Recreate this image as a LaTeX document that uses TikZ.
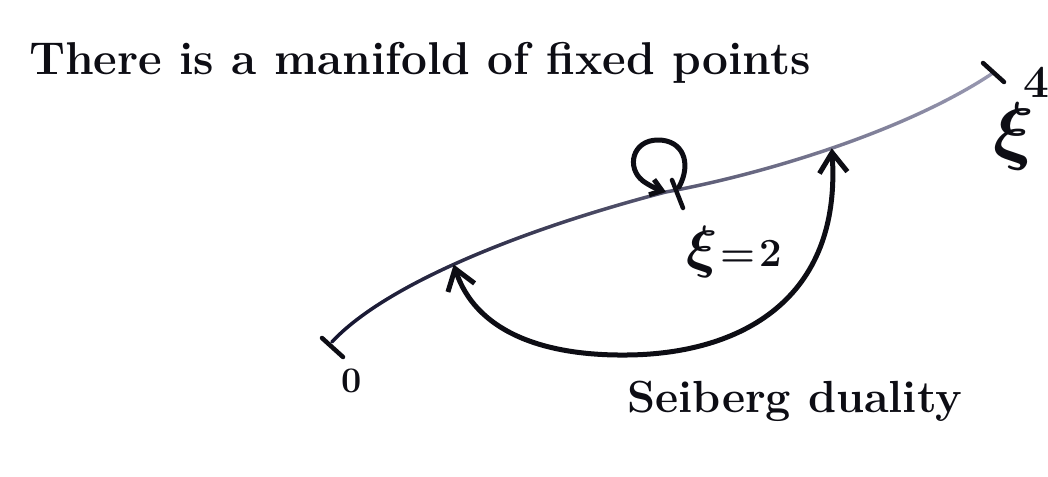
\RequirePackage{fix-cm}
\documentclass[tikz,border=0pt]{standalone}
\usepackage{amsmath}
\usetikzlibrary{arrows.meta,fadings}
\definecolor{ink}{rgb}{0.05,0.05,0.08}
\definecolor{curvedark}{rgb}{0.08,0.08,0.18}
\definecolor{curvelight}{rgb}{0.60,0.60,0.70}
\tikzset{
  hand/.style={ink, line width=5pt, line cap=round, line join=round},
  barb/.tip={Straight Barb[length=20pt,width=28pt]},
  smalltip/.style={-{Straight Barb[length=11pt,width=16pt]}},
  txt/.style={ink, inner sep=0pt},
  tickmark/.style={ink, line width=4.5pt, line cap=round},
  maincurve/.style={line width=3.4pt, line cap=round},
}
\begin{document}
\begin{tikzpicture}[x=1pt,y=-1pt]
\useasboundingbox (0,0) rectangle (1048,476);
% title
\node[txt, anchor=base west] (title) at (29,75)
  {\fontsize{46}{50}\selectfont\bfseries There is a manifold of fixed points};
% curve points
\coordinate (c0) at (332,342);
\coordinate (fp) at (666,192);
\coordinate (c7) at (993,73);
% main curve (light underneath, dark fading over it)
\draw[curvelight, maincurve]
  (c0) .. controls (385,285) and (520,230) .. coordinate[pos=0.47] (c1) (fp)
       .. controls (760,175) and (905,132) .. coordinate[pos=0.5] (c5) (c7);
\draw[curvedark, maincurve, path fading=east]
  (c0) .. controls (385,285) and (520,230) .. (fp)
       .. controls (760,175) and (905,132) .. (c7);
% end ticks
\draw[tickmark] (322,338) -- (343,357);
\draw[tickmark] (983,63) -- (1004,82);
% labels at the ends
\node[txt] (zero) at (352,381) {\fontsize{36}{40}\selectfont\bfseries 0};
\node[txt] (xiend) at (1014,136) {\fontsize{76}{80}\selectfont$\boldsymbol{\xi}$};
\node[txt] (four) at (1036,82) {\fontsize{46}{50}\selectfont\bfseries 4};
% fixed point loop
\draw[hand, smalltip] (679,187) .. controls (692,163) and (683,140) .. (658,140)
  .. controls (632,140) and (626,168) .. (643,181)
  .. controls (650,186) and (657,189) .. (fp);
\draw[tickmark] (672,180) -- (683,208);
\node[txt, anchor=base west] (xitwo) at (686,266)
  {{\fontsize{58}{62}\selectfont$\boldsymbol{\xi}$}\hspace{3pt}{\fontsize{40}{44}\selectfont\bfseries =\hspace{4pt}2}};
% Seiberg duality arrow
\draw[hand, barb-barb]
  (c1) .. controls (475,330) and (540,356) .. (627,355)
  .. controls (740,354) and (842,300) .. (c5);
\node[txt, anchor=base west] (dual) at (627,412)
  {\fontsize{45}{50}\selectfont\bfseries Seiberg duality};
\end{tikzpicture}
\end{document}
